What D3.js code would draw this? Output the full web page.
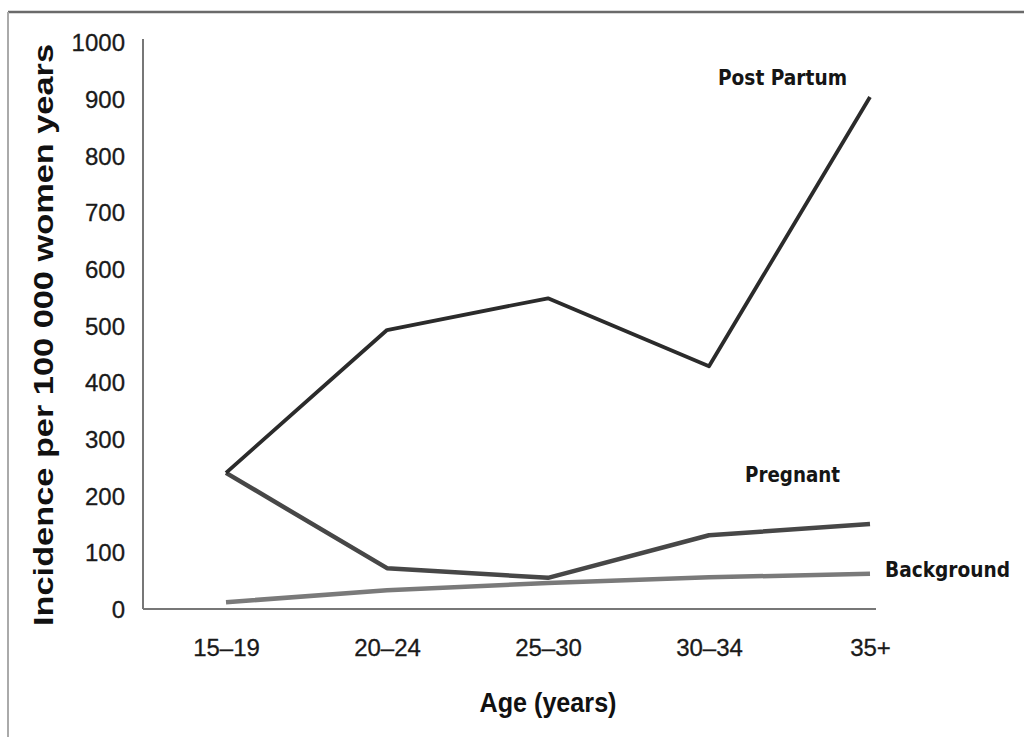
<!DOCTYPE html>
<html>
<head>
<meta charset="utf-8">
<script src="https://cdn.jsdelivr.net/npm/d3@7"></script>
<style>
  body { margin: 0; background: #fff; }
  svg { display: block; }
  .tick text { font-family: "Liberation Sans", Arial, sans-serif; font-size: 24px; fill: #1a1a1a; stroke: #1a1a1a; stroke-width: 0.3px; }
  .serieslabel { font-family: "DejaVu Sans Condensed", "DejaVu Sans", sans-serif; font-size: 22px; font-weight: bold; fill: #151515; }
  .title { font-family: "Liberation Sans", Arial, sans-serif; font-weight: bold; fill: #111; }
</style>
</head>
<body>
<script>
// ------------  DATA  ------------
const ages = ["15\u201319", "20\u201324", "25\u201330", "30\u201334", "35+"];
const postPartum = [240, 492, 548, 428, 903];
const pregnant = [240, 72, 55, 130, 150];
const background = [12, 33, 46, 56, 62];
const yTicks = [0, 100, 200, 300, 400, 500, 600, 700, 800, 900, 1000];

// ------------  PARAMETERS  ------------
const width = 1024, height = 737;
const x0 = 143, y0 = 609, yTop = 42;

const svg = d3.select("body").append("svg").attr("width", width).attr("height", height);

// frame
svg.append("line").attr("x1", 8).attr("x2", width).attr("y1", 12).attr("y2", 12)
  .attr("stroke", "#6a6a6a").attr("stroke-width", 2.5);
svg.append("line").attr("x1", 8).attr("x2", 8).attr("y1", 12).attr("y2", height)
  .attr("stroke", "#aaa").attr("stroke-width", 2);

// ------------  SCALES  ------------
const x = d3.scalePoint().domain(ages).range([226, 870]);
const y = d3.scaleLinear().domain([0, 1000]).range([y0, yTop]);

// ------------  AXES  ------------
const yAxis = svg.append("g").attr("transform", "translate(" + x0 + ",0)")
  .call(d3.axisLeft(y).tickValues(yTicks).tickFormat(d3.format("d")).tickSize(0).tickPadding(18));
yAxis.select(".domain").attr("d", "M0," + (y0) + "V" + (yTop - 3)).attr("stroke", "#777").attr("stroke-width", 2);
yAxis.selectAll(".tick text").attr("dy", "0.36em");

const xAxis = svg.append("g").attr("transform", "translate(0," + y0 + ")")
  .call(d3.axisBottom(x).tickSize(0).tickPadding(30));
xAxis.select(".domain").attr("d", "M" + x0 + ",0H876").attr("stroke", "#777").attr("stroke-width", 2);

// axis titles
svg.append("text")
  .attr("class", "title")
  .attr("transform", "translate(53,335) rotate(-90)")
  .attr("text-anchor", "middle")
  .attr("textLength", 582).attr("lengthAdjust", "spacingAndGlyphs")
  .style("font-size", "28px")
  .text("Incidence per 100 000 women years");

svg.append("text")
  .attr("class", "title")
  .attr("x", 548).attr("y", 712)
  .attr("text-anchor", "middle")
  .attr("textLength", 137).attr("lengthAdjust", "spacingAndGlyphs")
  .style("font-size", "28px")
  .text("Age (years)");

// ------------  LINES  ------------
const line = d3.line().x((d, i) => x(ages[i])).y(d => y(d));

const series = [
  { name: "Background", values: background, color: "#7a7a7a", w: 4.5 },
  { name: "Pregnant", values: pregnant, color: "#474747", w: 4.5 },
  { name: "Post Partum", values: postPartum, color: "#2b2b2b", w: 3.8 }
];

svg.selectAll("path.series")
  .data(series)
  .enter()
  .append("path")
  .attr("class", "series")
  .attr("d", d => line(d.values))
  .attr("fill", "none")
  .attr("stroke", d => d.color)
  .attr("stroke-width", d => d.w)
  .attr("stroke-linejoin", "round");

// series labels
const labels = [
  { text: "Post Partum", x: 718, y: 85, len: 129 },
  { text: "Pregnant", x: 745, y: 482, len: 95 },
  { text: "Background", x: 885, y: 577, len: 125 }
];
svg.selectAll("text.serieslabel")
  .data(labels)
  .enter()
  .append("text")
  .attr("class", "serieslabel")
  .attr("x", d => d.x).attr("y", d => d.y)
  .attr("textLength", d => d.len).attr("lengthAdjust", "spacingAndGlyphs")
  .text(d => d.text);
</script>
</body>
</html>
